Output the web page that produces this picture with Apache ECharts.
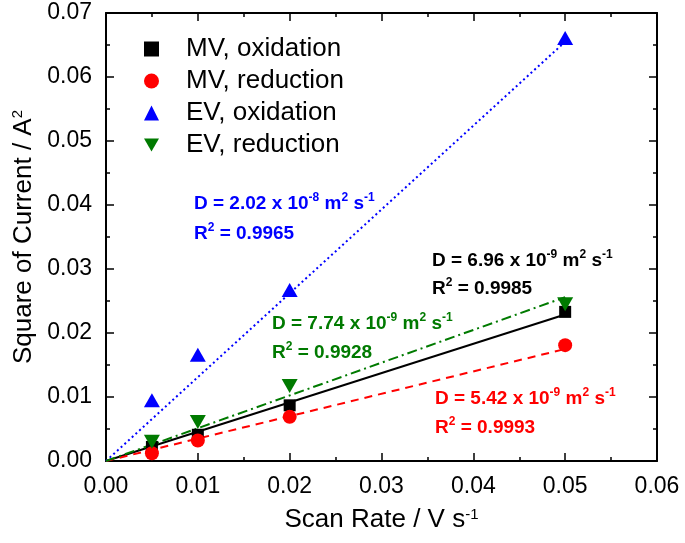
<!DOCTYPE html>
<html>
<head>
<meta charset="utf-8">
<script src="https://cdn.jsdelivr.net/npm/echarts@6/dist/echarts.min.js"></script>
<style>html,body{margin:0;padding:0;background:#fff}#c{width:685px;height:543px}</style>
</head>
<body>
<div id="c"></div>
<script>
// ---- data ----
var scanRates = [0.005, 0.01, 0.02, 0.05];
var mvOxidation = [0.0022, 0.0041, 0.0087, 0.0233];
var mvReduction = [0.0012, 0.0032, 0.0069, 0.0181];
var evOxidation = [0.0095, 0.0166, 0.0267, 0.0661];
var evReduction = [0.0030, 0.0061, 0.0117, 0.0245];
var fitX = [0, 0.05];
var fitMvOx = [0, 0.0229];
var fitMvRed = [0, 0.0175];
var fitEvOx = [0, 0.0655];
var fitEvRed = [0, 0.0256];
var seriesNames = ['MV, oxidation', 'MV, reduction', 'EV, oxidation', 'EV, reduction'];
var xTicks = ['0.00', '0.01', '0.02', '0.03', '0.04', '0.05', '0.06'];

function pairs(xs, ys) { return xs.map(function (x, i) { return [x, ys[i]]; }); }

var FONT = "'Liberation Sans', Arial, sans-serif";
var downTri = 'path://M0,0 L10,0 L5,8.7 Z';
var colBlack = '#000000', colRed = '#ff0000', colBlue = '#0000ff', colGreen = '#007a00';

var chart = echarts.init(document.getElementById('c'), null, { renderer: 'canvas' });

var axisCommon = {
  type: 'value',
  axisLine: { show: true, onZero: false, lineStyle: { color: '#000', width: 2 } },
  axisTick: { show: true, inside: true, length: 8, lineStyle: { color: '#000', width: 1.5 } },
  minorTick: { show: true, splitNumber: 2, length: 4, lineStyle: { color: '#000', width: 1.5 } },
  splitLine: { show: false }
};

function supRich(color, size, supSize, weight) {
  return {
    n: { fontFamily: FONT, fontSize: size, fontWeight: weight, color: color, lineHeight: size + 5 },
    s: { fontFamily: FONT, fontSize: supSize, fontWeight: weight, color: color, lineHeight: supSize + 1, verticalAlign: 'top' }
  };
}

function annot(x, y, text, color) {
  return {
    type: 'text', left: x, top: y, z: 100,
    style: { text: text, rich: supRich(color, 19, 12, 'bold'), fill: color }
  };
}

var option = {
  animation: false,
  backgroundColor: '#fff',
  grid: { left: 106, right: 28, top: 13, bottom: 82, containLabel: false },
  legend: {
    orient: 'vertical', left: 139, top: 31, itemWidth: 15, itemHeight: 15, itemGap: 6,
    textStyle: { fontFamily: FONT, fontSize: 26, color: '#000', lineHeight: 26, padding: [0, 0, 0, 22] },
    data: [
      { name: seriesNames[0], icon: 'rect', itemStyle: { color: colBlack } },
      { name: seriesNames[1], icon: 'circle' },
      { name: seriesNames[2], icon: 'triangle' },
      { name: seriesNames[3], icon: downTri }
    ]
  },
  xAxis: [
    Object.assign({}, axisCommon, {
      position: 'bottom', min: 0, max: 0.06, interval: 0.01,
      axisLabel: { margin: 14, fontFamily: FONT, fontSize: 23, color: '#000',
        formatter: function (v) { return xTicks[Math.round(v / 0.01)]; } },
      name: 'Scan Rate / V s{s|-1}', nameLocation: 'middle', nameGap: 46,
      nameTextStyle: { rich: supRich('#000', 26, 15, 'normal'), fontFamily: FONT, fontSize: 26, color: '#000' }
    }),
    Object.assign({}, axisCommon, {
      position: 'top', min: 0, max: 0.06, interval: 0.01, axisLabel: { show: false }
    })
  ],
  yAxis: [
    Object.assign({}, axisCommon, {
      position: 'left', min: 0, max: 0.07, interval: 0.01,
      axisLabel: { margin: 14, fontFamily: FONT, fontSize: 23, color: '#000',
        formatter: function (v) { return v.toFixed(2); } },
      name: 'Square of Current / A{s|2}', nameLocation: 'middle', nameGap: 66, nameRotate: 90,
      nameTextStyle: { rich: supRich('#000', 26, 15, 'normal'), fontFamily: FONT, fontSize: 26, color: '#000' }
    }),
    Object.assign({}, axisCommon, {
      position: 'right', min: 0, max: 0.07, interval: 0.01, axisLabel: { show: false }
    })
  ],
  series: [
    { name: 'fitMvOx', type: 'line', data: pairs(fitX, fitMvOx), showSymbol: false, z: 2,
      lineStyle: { color: colBlack, width: 2, type: 'solid' }, silent: true },
    { name: 'fitMvRed', type: 'line', data: pairs(fitX, fitMvRed), showSymbol: false, z: 2,
      lineStyle: { color: colRed, width: 2, type: [8, 6] }, silent: true },
    { name: 'fitEvOx', type: 'line', data: pairs(fitX, fitEvOx), showSymbol: false, z: 2,
      lineStyle: { color: colBlue, width: 2, type: [2, 3] }, silent: true },
    { name: 'fitEvRed', type: 'line', data: pairs(fitX, fitEvRed), showSymbol: false, z: 2,
      lineStyle: { color: colGreen, width: 2, type: [10, 4, 2, 4] }, silent: true },
    { name: seriesNames[0], type: 'scatter', data: pairs(scanRates, mvOxidation), symbol: 'rect', symbolSize: 12, z: 5,
      itemStyle: { color: colBlack, opacity: 1 } },
    { name: seriesNames[1], type: 'scatter', data: pairs(scanRates, mvReduction), symbol: 'circle', symbolSize: 14, z: 5,
      itemStyle: { color: colRed, opacity: 1 } },
    { name: seriesNames[2], type: 'scatter', data: pairs(scanRates, evOxidation), symbol: 'triangle', symbolSize: [16, 14], z: 5,
      itemStyle: { color: colBlue, opacity: 1 } },
    { name: seriesNames[3], type: 'scatter', data: pairs(scanRates, evReduction), symbol: downTri, symbolSize: [16, 14], z: 5,
      itemStyle: { color: colGreen, opacity: 1 } }
  ],
  graphic: [
    annot(194, 192, '{n|D = 2.02 x 10}{s|-8}{n| m}{s|2}{n| s}{s|-1}', colBlue),
    annot(194, 222, '{n|R}{s|2}{n| = 0.9965}', colBlue),
    annot(432, 249, '{n|D = 6.96 x 10}{s|-9}{n| m}{s|2}{n| s}{s|-1}', colBlack),
    annot(432, 277, '{n|R}{s|2}{n| = 0.9985}', colBlack),
    annot(272, 312, '{n|D = 7.74 x 10}{s|-9}{n| m}{s|2}{n| s}{s|-1}', colGreen),
    annot(272, 341, '{n|R}{s|2}{n| = 0.9928}', colGreen),
    annot(435, 387, '{n|D = 5.42 x 10}{s|-9}{n| m}{s|2}{n| s}{s|-1}', colRed),
    annot(435, 416, '{n|R}{s|2}{n| = 0.9993}', colRed)
  ]
};
chart.setOption(option);
</script>
</body>
</html>
